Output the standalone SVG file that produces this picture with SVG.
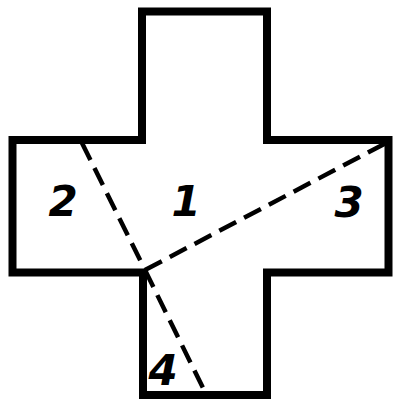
<svg xmlns="http://www.w3.org/2000/svg" width="393" height="399" viewBox="0 0 393 399">
<style>
.outline{fill:none;stroke:#000;stroke-width:8;stroke-linejoin:miter}
.cut{fill:none;stroke:#000;stroke-width:4.5;stroke-dasharray:19 9}
.lbl{font-family:"DejaVu Sans",sans-serif;font-weight:bold;font-style:italic;font-size:42px;fill:#000;text-anchor:middle}
</style>
<rect width="393" height="399" fill="#fff"/>
<g id="cross">
<path class="outline" d="M142,11.5 H267 V140 H388.5 V272.5 H267 V395 H143 V272.5 H12.5 V140 H142 Z"/>
</g>
<g id="connectors">
<path class="cut" d="M145,270 L386,143"/>
<path class="cut" d="M82,143 L145,270"/>
<path class="cut" d="M145,270 L205,392"/>
</g>
<g id="region1"><text class="lbl" x="186" y="216">1</text></g>
<g id="region2"><text class="lbl" x="63" y="216">2</text></g>
<g id="region3"><text class="lbl" x="349" y="217">3</text></g>
<g id="region4"><text class="lbl" x="163" y="385">4</text></g>
</svg>
